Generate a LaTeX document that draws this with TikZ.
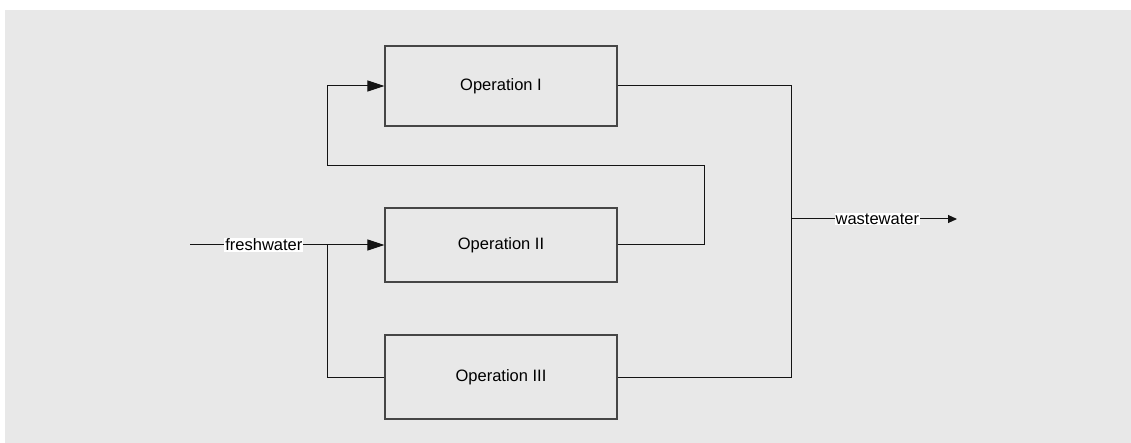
\documentclass[tikz,border=0pt]{standalone}
\usepackage{fontspec}
\setmainfont{Liberation Sans}
\usetikzlibrary{arrows.meta}
\definecolor{bggray}{RGB}{232,232,232}
\definecolor{boxline}{RGB}{70,70,70}
\definecolor{conline}{RGB}{20,20,20}
\tikzset{
  opbox/.style={draw=boxline, line width=1.1pt, rectangle, minimum width=232pt, inner sep=0pt, font=\fontsize{16.5}{20}\selectfont},
  conn/.style={draw=conline, line width=1pt},
  bigarrow/.style={conn, -{Triangle[length=17pt,width=11pt]}},
  smallarrow/.style={conn, -{Triangle[length=9pt,width=8pt]}},
  lbl/.style={fill=white, inner sep=1pt, font=\fontsize{16.5}{20}\selectfont}
}
\begin{document}
\begin{tikzpicture}[x=1pt,y=-1pt]
\useasboundingbox (0,0) rectangle (1131,443);
\fill[bggray] (5,10) rectangle (1131,443);
\node[opbox, minimum height=80pt] (op1) at (501,86) {Operation I};
\node[opbox, minimum height=74pt] (op2) at (501,245) {Operation II};
\node[opbox, minimum height=84pt] (op3) at (501,377) {Operation III};
\coordinate (fsrc) at (190,245);
\coordinate (j1) at (327,245);
\coordinate (r1) at (704,245);
\coordinate (r2) at (704,166);
\coordinate (l1) at (327,166);
\coordinate (l2) at (327,86);
\coordinate (c1) at (791,86);
\coordinate (c2) at (791,377);
\coordinate (w0) at (791,219);
\coordinate (w1) at (957,219);
% freshwater into Operation II
\draw[bigarrow] (fsrc) -- node[lbl, pos=0.38] (fw) {freshwater} (op2.west);
% Operation III inlet branch
\draw[conn] (op3.west) -| (j1);
% Operation II outlet to Operation I inlet
\draw[bigarrow] (op2.east) -- (r1) -- (r2) -- (l1) -- (l2) -- (op1.west);
% collector
\draw[conn] (op1.east) -- (c1) -- (c2) -- (op3.east);
\draw[smallarrow] (w0) -- node[lbl, pos=0.52] (ww) {wastewater} (w1);
\end{tikzpicture}
\end{document}
